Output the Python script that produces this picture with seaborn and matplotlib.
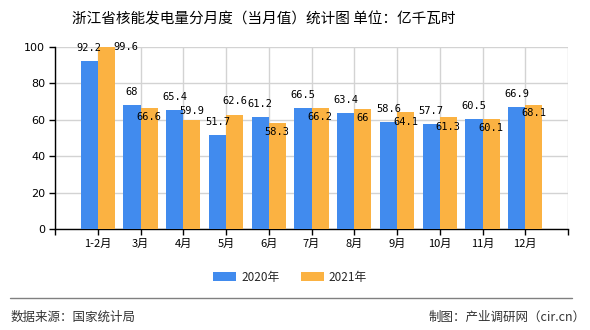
import matplotlib
matplotlib.use("Agg")
import matplotlib.pyplot as plt
import seaborn as sns
import pandas as pd
from matplotlib.patches import Patch
from matplotlib.lines import Line2D

months = ["1-2月", "3月", "4月", "5月", "6月", "7月", "8月", "9月", "10月", "11月", "12月"]
series_names = ["2020年", "2021年"]
values_2020 = [92.2, 68, 65.4, 51.7, 61.2, 66.5, 63.4, 58.6, 57.7, 60.5, 66.9]
values_2021 = [99.6, 66.6, 59.9, 62.6, 58.3, 66.2, 66, 64.1, 61.3, 60.1, 68.1]
y_ticks = [0, 20, 40, 60, 80, 100]

# label placement tweaks (points), mimicking the source's collision avoidance
dy_2021 = [0, -6.5, 6.5, 10, -6.5, -6.5, -6.5, -7, -7, -6.5, -6]
dx_2021 = [14, 0, 0, 0, 0, 0, 0, 0, 0, 0, 0]

colors = ["#418bee", "#fbb242"]

df = pd.DataFrame({
    "month": months * 2,
    "series": [series_names[0]] * len(months) + [series_names[1]] * len(months),
    "value": values_2020 + values_2021,
})

sns.set_theme(style="white")
plt.rcParams["font.family"] = ["Noto Sans CJK SC", "DejaVu Sans"]

fig = plt.figure(figsize=(5.9, 3.3), dpi=100)
ax = fig.add_axes([55 / 590, 1 - 229 / 330, (568 - 55) / 590, (229 - 46.7) / 330])

sns.barplot(data=df, x="month", y="value", hue="series", order=months,
            hue_order=series_names, palette=colors, width=0.8, saturation=1,
            errorbar=None, ax=ax, legend=False, zorder=3, linewidth=0,
            edgecolor="none")

ax.set_xlim(-1, len(months))
ax.set_ylim(0, 100)
ax.set_xlabel("")
ax.set_ylabel("")

ax.set_xticks(range(-1, len(months) + 1))
ax.set_xticklabels([""] + months + [""], fontsize=8, color="black")
ax.set_yticks(y_ticks)
ax.set_yticklabels([str(t) for t in y_ticks], fontsize=8, color="black",
                   family=["DejaVu Sans"])

ax.grid(True, color="#d3d3d3", linewidth=1, zorder=0)
ax.set_axisbelow(True)
for s in ["top", "right"]:
    ax.spines[s].set_visible(False)
for s in ["left", "bottom"]:
    ax.spines[s].set_color("black")
    ax.spines[s].set_linewidth(1)
ax.tick_params(axis="both", which="both", direction="out", length=4, width=1,
               color="black", pad=3, bottom=True, left=True)

# value labels
c2020, c2021 = ax.containers[0], ax.containers[1]
for bar, v in zip(c2020, values_2020):
    ax.annotate(f"{v:g}", (bar.get_x() + bar.get_width() / 2, bar.get_height()),
                xytext=(0, 9.5), textcoords="offset points", ha="center", va="center",
                fontsize=7.5, family="DejaVu Sans Mono", color="black", zorder=5)
for bar, v, dx, dy in zip(c2021, values_2021, dx_2021, dy_2021):
    ax.annotate(f"{v:g}", (bar.get_x() + bar.get_width() / 2, bar.get_height()),
                xytext=(dx, dy), textcoords="offset points", ha="center", va="center",
                fontsize=7.5, family="DejaVu Sans Mono", color="black", zorder=5)

# legend
handles = [Patch(facecolor=colors[0], edgecolor="none"),
           Patch(facecolor=colors[1], edgecolor="none")]
fig.legend(handles, series_names, loc="center", bbox_to_anchor=(290 / 590, 1 - 277 / 330),
           ncol=2, frameon=False, fontsize=8.5, handlelength=2.0, handleheight=0.8,
           columnspacing=1.8, handletextpad=0.4)

# title
fig.text(264 / 590, 1 - 19 / 330, "浙江省核能发电量分月度（当月值）统计图 单位：亿千瓦时",
         ha="center", va="center", fontsize=10.5, color="black")

# footer
fig.add_artist(Line2D([10 / 590, 572 / 590], [1 - 298 / 330, 1 - 298 / 330],
                      color="#808080", linewidth=1))
fig.text(11 / 590, 1 - 317 / 330, "数据来源：国家统计局", ha="left", va="center",
         fontsize=9, color="#333333")
fig.text(586 / 590, 1 - 317 / 330, "制图：产业调研网（cir.cn）", ha="right", va="center",
         fontsize=9, color="#333333")

fig.savefig("out.png", dpi=100, facecolor="white")
